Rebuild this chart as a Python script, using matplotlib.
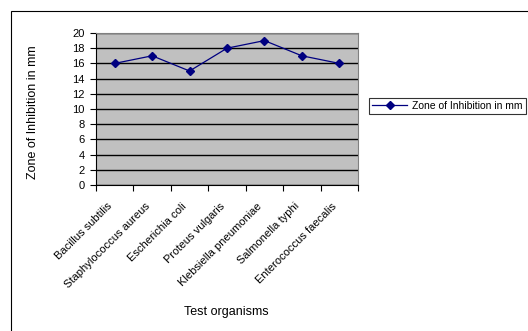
import matplotlib.pyplot as plt
import matplotlib.transforms as mtransforms
from matplotlib.patches import Rectangle

organisms = ["Bacillus subtilis", "Staphylococcus aureus", "Escherichia coli",
             "Proteus vulgaris", "Klebsiella pneumoniae", "Salmonella typhi",
             "Enterococcus faecalis"]
zone = [16, 17, 15, 18, 19, 17, 16]
yticks = list(range(0, 21, 2))

plt.rcParams["font.family"] = ["Liberation Sans", "DejaVu Sans"]
plt.rcParams["font.size"] = 8

fig = plt.figure(figsize=(5.28, 3.31), dpi=100)
ax = fig.add_axes([96 / 528, 1 - 185 / 331, 262 / 528, 152 / 331])

# outer chart border (cut off at right and bottom in the original)
fig.patches.append(Rectangle((10.5 / 528, -0.1), 1.2, 1 - 10.5 / 331 + 0.1,
                             transform=fig.transFigure, fill=False,
                             edgecolor="black", linewidth=0.8))

ax.set_facecolor("#c0c0c0")
x = [i + 0.5 for i in range(len(organisms))]
ax.plot(x, zone, color="#000080", marker="D", markersize=4, linewidth=0.9,
        label="Zone of Inhibition in mm", zorder=3)

ax.set_xlim(0, len(organisms))
ax.set_ylim(0, 20)
ax.set_yticks(yticks)
ax.yaxis.grid(True, color="black", linewidth=1)
ax.set_axisbelow(True)

ax.set_xticks(range(len(organisms) + 1))
ax.set_xticklabels([])
ax.set_xticks(x, minor=True)
labels = ax.set_xticklabels(organisms, minor=True, rotation=45, ha="right",
                            va="center", rotation_mode="anchor", fontsize=8)
ax.tick_params(axis="x", which="minor", length=0, pad=14)
ax.tick_params(axis="both", which="major", length=4, width=0.8, direction="out")
ax.tick_params(axis="y", pad=4, labelsize=8)

# nudge rotated labels a little to the left
shift = mtransforms.ScaledTranslation(-3 / 72, 0, fig.dpi_scale_trans)
for lab in ax.xaxis.get_minorticklabels():
    lab.set_transform(lab.get_transform() + shift)

for side in ["top", "right"]:
    ax.spines[side].set_color("#808080")
for side in ["left", "bottom"]:
    ax.spines[side].set_color("black")

fig.text(33 / 528, 1 - 112 / 331, "Zone of Inhibition in mm", rotation=90,
         ha="center", va="center", fontsize=9)
fig.text(226 / 528, 1 - 312 / 331, "Test organisms", ha="center", va="center",
         fontsize=9)

leg = fig.legend(loc="center", bbox_to_anchor=(447.5 / 528, 1 - 106 / 331),
                 frameon=True, fancybox=False, borderpad=0.3,
                 borderaxespad=0, handlelength=3.3, handletextpad=0.5,
                 fontsize=7.5)
leg.get_frame().set_edgecolor("black")
leg.get_frame().set_linewidth(0.8)

fig.savefig("out.png", dpi=100)
